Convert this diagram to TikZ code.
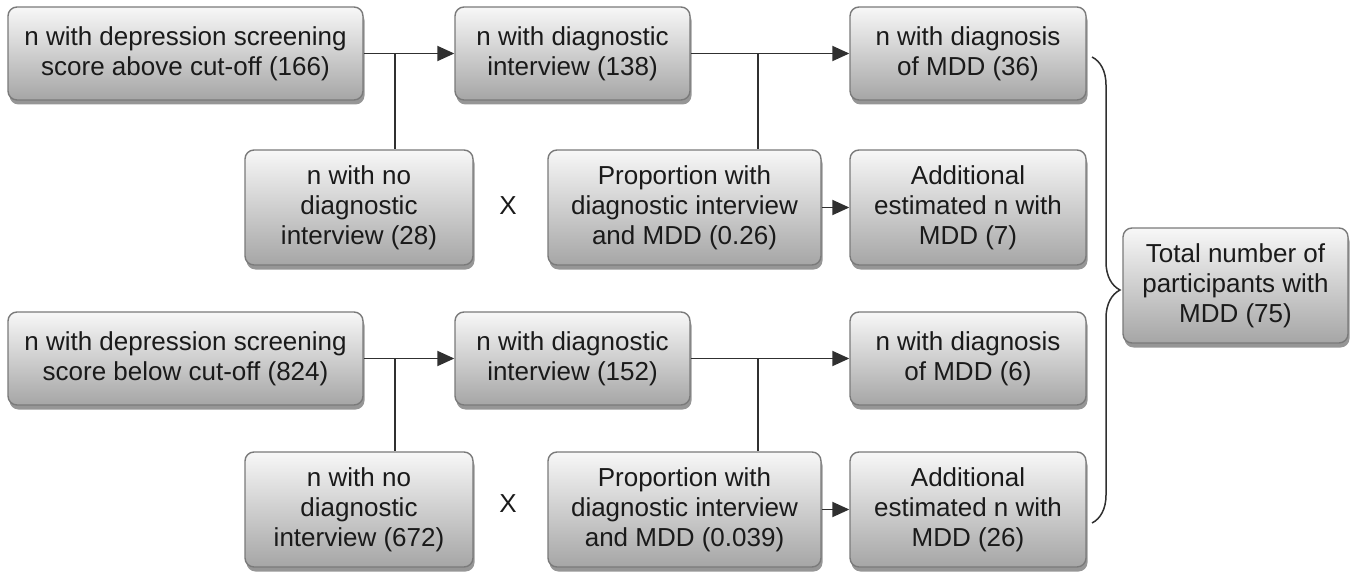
\documentclass[tikz,border=0pt]{standalone}
\usepackage{fontspec}
\setmainfont{Liberation Sans}
\usetikzlibrary{shadows,arrows.meta,decorations.pathreplacing}
\definecolor{txt}{HTML}{1A1A1A}
\definecolor{edgec}{HTML}{7A7A7A}
\definecolor{lnc}{HTML}{303030}
\begin{document}
\begin{tikzpicture}[x=1pt,y=-1pt,
  box/.style={draw=edgec, line width=1.4pt, rounded corners=9pt,
    top color=white!97!black, bottom color=black!35,
    font=\fontsize{26}{30}\selectfont, align=center, text=txt, inner sep=0pt,
    drop shadow={shadow xshift=1.5pt, shadow yshift=-4.5pt, fill=black!55, opacity=0.75}},
  wide/.style={minimum width=355pt},
  mid/.style={minimum width=235pt},
  short/.style={minimum height=93pt},
  tall/.style={minimum height=115pt},
  conn/.style={draw=lnc, line width=1.9pt},
  arr/.style={conn, -{Triangle[length=17pt,width=15pt]}},
  mult/.style={font=\fontsize{26}{30}\selectfont, text=txt, inner sep=0pt}
]
\useasboundingbox (0,0) rectangle (1356,572);

% top group
\node[box,wide,short] (A1) at (185.5,53.5) {n with depression screening\\score above cut-off (166)};
\node[box,mid,short] (C1) at (572.5,53.5) {n with diagnostic\\interview (138)};
\node[box,mid,short,minimum width=236pt] (E1) at (968,53.5) {n with diagnosis\\of MDD (36)};
\node[box,tall,minimum width=228pt] (B1) at (359,207.5) {n with no\\diagnostic\\interview (28)};
\node[box,tall,minimum width=273pt] (D1) at (684.5,207.5) {Proportion with\\diagnostic interview\\and MDD (0.26)};
\node[box,tall,minimum width=236pt] (F1) at (968,207.5) {Additional\\estimated n with\\MDD (7)};
\node[mult] (X1) at (508,206) {X};

% bottom group
\node[box,wide,short] (A2) at (185.5,358.5) {n with depression screening\\score below cut-off (824)};
\node[box,mid,short] (C2) at (572.5,358.5) {n with diagnostic\\interview (152)};
\node[box,mid,short,minimum width=236pt] (E2) at (968,358.5) {n with diagnosis\\of MDD (6)};
\node[box,tall,minimum width=228pt] (B2) at (359,509.5) {n with no\\diagnostic\\interview (672)};
\node[box,tall,minimum width=273pt] (D2) at (684.5,509.5) {Proportion with\\diagnostic interview\\and MDD (0.039)};
\node[box,tall,minimum width=236pt] (F2) at (968,509.5) {Additional\\estimated n with\\MDD (26)};
\node[mult] (X2) at (508,504) {X};

% total
\node[box,tall,minimum width=225pt] (T) at (1235.5,285.5) {Total number of\\participants with\\MDD (75)};

% junction coordinates
\coordinate (j1) at (395,53.5);
\coordinate (j2) at (758,53.5);
\coordinate (j3) at (395,358.5);
\coordinate (j4) at (758,358.5);

% connectors top
\draw[arr] (A1.east) -- (C1.west);
\draw[conn] (j1) -- (j1 |- B1.north);
\draw[arr] (C1.east) -- (E1.west);
\draw[conn] (j2) -- (j2 |- D1.north);
\draw[arr] (D1.east) -- (F1.west);

% connectors bottom
\draw[arr] (A2.east) -- (C2.west);
\draw[conn] (j3) -- (j3 |- B2.north);
\draw[arr] (C2.east) -- (E2.west);
\draw[conn] (j4) -- (j4 |- D2.north);
\draw[arr] (D2.east) -- (F2.west);

% brace
\coordinate (br1) at (1092,57);
\coordinate (br2) at (1092,523);
\draw[lnc, line width=1.5pt, decorate, decoration={brace, amplitude=28pt}] (br1) -- (br2);
\end{tikzpicture}
\end{document}
